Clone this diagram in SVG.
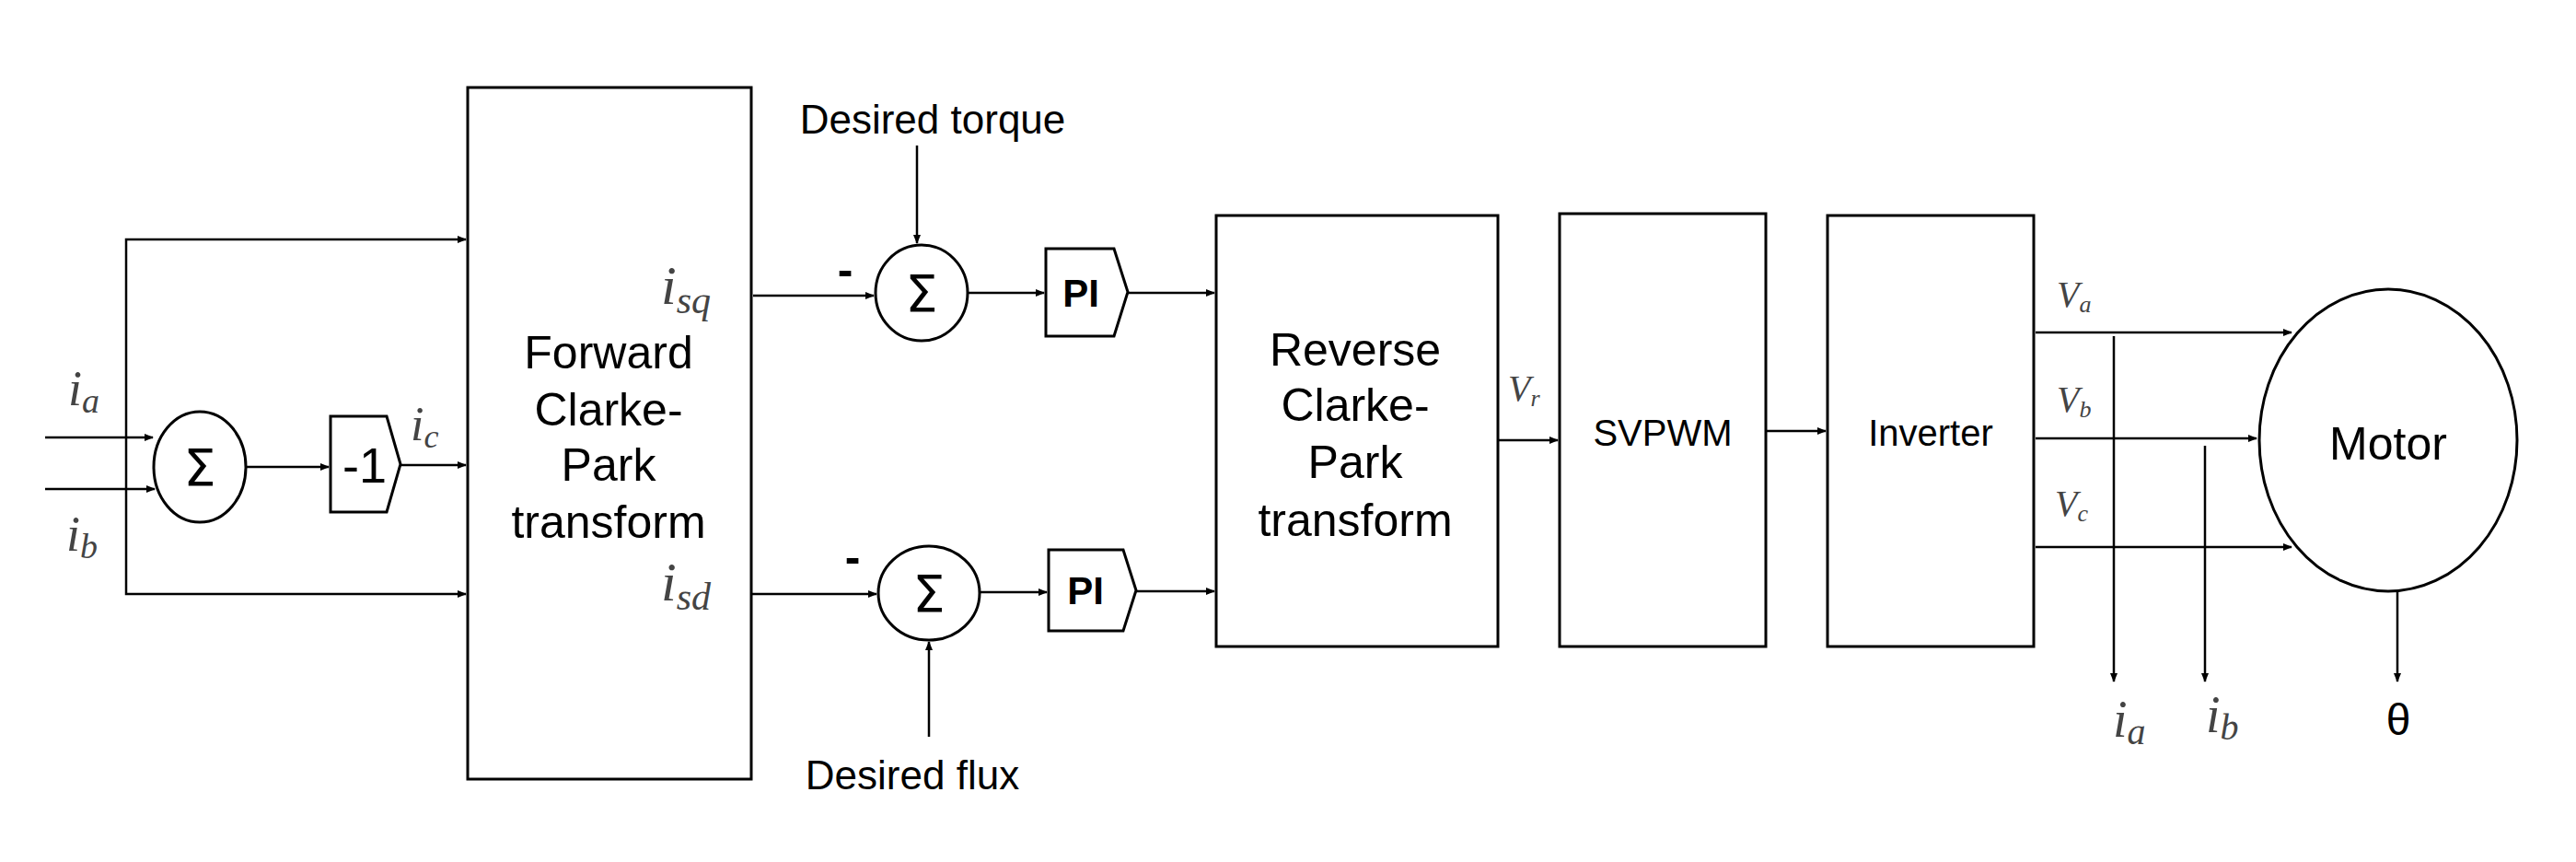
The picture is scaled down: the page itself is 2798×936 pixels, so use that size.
<svg xmlns="http://www.w3.org/2000/svg" width="2798" height="936" viewBox="0 0 2798 936">
<style>
.b{fill:#fff;stroke:#000;stroke-width:3}
.l{fill:none;stroke:#000;stroke-width:2.5;marker-end:url(#a)}
.t{font-family:"Liberation Sans",Arial,sans-serif;fill:#000;text-anchor:middle}
.m{font-family:"Liberation Serif","DejaVu Serif",serif;font-style:italic;fill:#444}
.s{font-family:"DejaVu Sans",sans-serif;fill:#000;text-anchor:middle;font-size:56px}
</style>
<defs><marker id="a" markerWidth="10" markerHeight="8" refX="9" refY="4" orient="auto" markerUnits="userSpaceOnUse"><path d="M0,0L10,4L0,8Z" fill="#000"/></marker></defs>
<g id="connectors">
<path class="l" d="M137,475V260H506"/>
<path class="l" d="M137,475V645H506"/>
<path class="l" d="M49,475H166"/>
<path class="l" d="M49,531H168"/>
<path class="l" d="M267,507H357"/>
<path class="l" d="M435,505H506"/>
<path class="l" d="M818,321H949"/>
<path class="l" d="M996,158V264"/>
<path class="l" d="M1052,318H1134"/>
<path class="l" d="M1225,318H1319"/>
<path class="l" d="M816,645H952"/>
<path class="l" d="M1009,800V697"/>
<path class="l" d="M1065,643H1137"/>
<path class="l" d="M1234,642H1319"/>
<path class="l" d="M1627,478H1692"/>
<path class="l" d="M1918,468H1983"/>
<path class="l" d="M2211,361H2489"/>
<path class="l" d="M2211,476H2451"/>
<path class="l" d="M2211,594H2489"/>
<path class="l" d="M2296,365V740"/>
<path class="l" d="M2395,484V740"/>
<path class="l" d="M2604,642V740"/>
</g>
<g id="sum1"><ellipse class="b" cx="217" cy="507" rx="50" ry="60"/><text class="s" x="217" y="527">Σ</text></g>
<g id="neg1"><path class="b" d="M359,452H420L435,504L420,556H359Z"/><text class="t" x="396" y="524" font-size="54">-1</text></g>
<g id="forward"><rect class="b" x="508" y="95" width="308" height="751"/>
<text class="t" font-size="50" x="661"><tspan x="661" y="400">Forward</tspan><tspan x="661" y="462">Clarke-</tspan><tspan x="661" y="522">Park</tspan><tspan x="661" y="584">transform</tspan></text></g>
<g id="sum2"><ellipse class="b" cx="1001" cy="318" rx="50" ry="52"/><text class="s" x="1001" y="338">Σ</text></g>
<g id="sum3"><ellipse class="b" cx="1009" cy="644" rx="55" ry="51"/><text class="s" x="1009" y="664">Σ</text></g>
<g id="pi1"><path class="b" d="M1136,270H1210L1225,317L1210,365H1136Z"/><text class="t" font-size="42" font-weight="bold" x="1174" y="333">PI</text></g>
<g id="pi2"><path class="b" d="M1139,597H1220L1234,641L1220,685H1139Z"/><text class="t" font-size="42" font-weight="bold" x="1179" y="656">PI</text></g>
<g id="reverse"><rect class="b" x="1321" y="234" width="306" height="468"/>
<text class="t" font-size="50"><tspan x="1472" y="397">Reverse</tspan><tspan x="1472" y="457">Clarke-</tspan><tspan x="1472" y="519">Park</tspan><tspan x="1472" y="582">transform</tspan></text></g>
<g id="svpwm"><rect class="b" x="1694" y="232" width="224" height="470"/><text class="t" font-size="40" x="1806" y="484">SVPWM</text></g>
<g id="inverter"><rect class="b" x="1985" y="234" width="224" height="468"/><text class="t" font-size="40" x="2097" y="484">Inverter</text></g>
<g id="motor"><ellipse class="b" cx="2594" cy="478" rx="140" ry="164"/><text class="t" font-size="50" x="2594" y="499">Motor</text></g>
<g id="labels">
<text class="t" font-size="44" x="1013" y="145">Desired torque</text>
<text class="t" font-size="44" x="991" y="857">Desired flux</text>
<text class="t" font-size="50" font-weight="bold" x="918" y="310">-</text>
<text class="t" font-size="50" font-weight="bold" x="926" y="622">-</text>
<text class="m" font-size="54" x="74" y="440">i<tspan font-size="38" dy="8">a</tspan></text>
<text class="m" font-size="54" x="72" y="598">i<tspan font-size="38" dy="8">b</tspan></text>
<text class="m" font-size="52" x="446" y="478">i<tspan font-size="36" dy="8">c</tspan></text>
<text class="m" font-size="60" x="718" y="330">i<tspan font-size="42" dy="10">sq</tspan></text>
<text class="m" font-size="60" x="718" y="652">i<tspan font-size="42" dy="10">sd</tspan></text>
<text class="m" font-size="40" x="1638" y="435">V<tspan font-size="26" dy="6">r</tspan></text>
<text class="m" font-size="40" x="2234" y="333">V<tspan font-size="26" dy="6">a</tspan></text>
<text class="m" font-size="40" x="2234" y="447">V<tspan font-size="26" dy="6">b</tspan></text>
<text class="m" font-size="40" x="2232" y="560">V<tspan font-size="26" dy="6">c</tspan></text>
<text class="m" font-size="56" x="2295" y="800">i<tspan font-size="40" dy="8">a</tspan></text>
<text class="m" font-size="56" x="2396" y="795">i<tspan font-size="40" dy="8">b</tspan></text>
<text class="t" font-size="48" x="2605" y="798" fill="#444">θ</text>
</g>
</svg>
